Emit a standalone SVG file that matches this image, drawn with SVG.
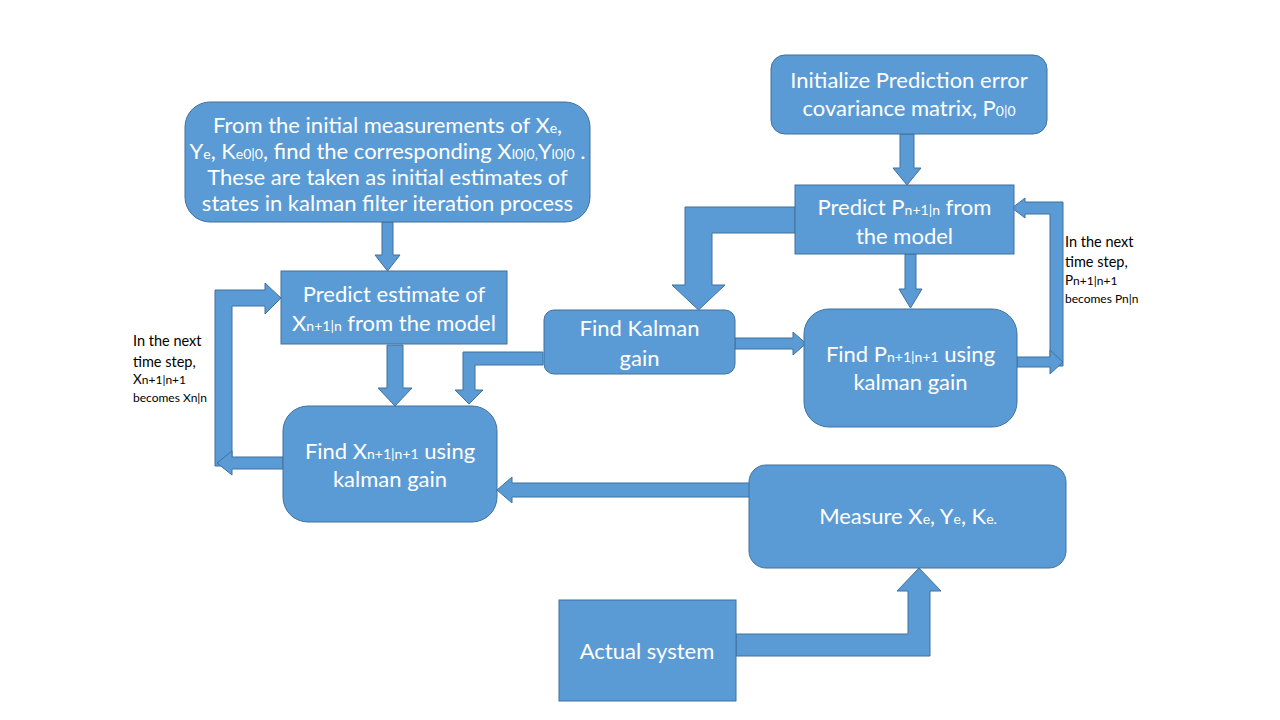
<svg xmlns="http://www.w3.org/2000/svg" width="1280" height="720" viewBox="0 0 1280 720">
<style>
.box{fill:#5B9BD5;stroke:#41719C;stroke-width:1}
.arr{fill:#5B9BD5;stroke:#41719C;stroke-width:1;stroke-linejoin:miter}
.t{font-family:Lato,"Liberation Sans",sans-serif;font-size:22px;fill:#FFFFFF;text-anchor:middle}
.s{font-size:14px}
.lbl{font-family:Lato,"Liberation Sans",sans-serif;font-size:14.5px;fill:#000000}
.ls{font-size:12px}
</style>
<rect width="1280" height="720" fill="#FFFFFF"/>
<g id="connectors">
  <path class="arr" d="M382,222 L393,222 L393,255 L400,255 L387.5,271 L375,255 L382,255 Z"/>
  <path class="arr" d="M900,134 L914,134 L914,168 L921,168 L907,185 L893,168 L900,168 Z"/>
  <path class="arr" d="M905,254 L916,254 L916,289 L922,289 L910.5,308 L899,289 L905,289 Z"/>
  <path class="arr" d="M795,207 L685,207 L685,285 L672,285 L698.5,310 L725,285 L712,285 L712,233 L795,233 Z"/>
  <path class="arr" d="M735,338 L793,338 L793,332 L806,343.5 L793,355 L793,349 L735,349 Z"/>
  <path class="arr" d="M543,352 L463,352 L463,390 L455,390 L469,404 L483,390 L475,390 L475,365 L543,365 Z"/>
  <path class="arr" d="M387,345 L403,345 L403,388 L412,388 L395,406 L378,388 L387,388 Z"/>
  <path class="arr" d="M215,466 L215,290 L265,290 L265,283 L281,298 L265,314 L265,306 L232,306 L232,466 Z"/>
  <path class="arr" d="M283,457 L232,457 L232,451 L217,463 L232,475 L232,469 L283,469 Z"/>
  <path class="arr" d="M1063,366 L1063,202 L1025,202 L1025,198 L1012,208 L1025,218 L1025,214 L1050,214 L1050,366 Z"/>
  <path class="arr" d="M1017,357 L1050,357 L1050,350 L1063,362 L1050,374 L1050,367 L1017,367 Z"/>
  <path class="arr" d="M750,483 L512,483 L512,477 L497,490 L512,503 L512,497 L750,497 Z"/>
  <path class="arr" d="M736,634 L908,634 L908,591 L897,591 L919,568 L941,591 L930,591 L930,656 L736,656 Z"/>
</g>
<g id="node-initial-estimates">
  <rect class="box" x="185" y="102" width="405" height="120" rx="25" ry="25"/>
  <text class="t" x="387.5" y="133">From the initial measurements of X<tspan class="s">e</tspan>,</text>
  <text class="t" x="387.5" y="159">Y<tspan class="s">e</tspan>, K<tspan class="s">e0|0</tspan>, find the corresponding  X<tspan class="s">l0|0,</tspan>Y<tspan class="s">l0|0</tspan> .</text>
  <text class="t" x="387.5" y="185">These are taken as initial estimates of</text>
  <text class="t" x="387.5" y="211">states in kalman filter iteration process</text>
</g>
<g id="node-init-p">
  <rect class="box" x="771" y="55" width="276" height="79" rx="14" ry="14"/>
  <text class="t" x="909" y="88">Initialize Prediction error</text>
  <text class="t" x="909" y="116">covariance matrix, P<tspan class="s">0|0</tspan></text>
</g>
<g id="node-predict-p">
  <rect class="box" x="795" y="185" width="219" height="69"/>
  <text class="t" x="904.5" y="215">Predict P<tspan class="s">n+1|n</tspan> from</text>
  <text class="t" x="904.5" y="244">the model</text>
</g>
<g id="node-predict-x">
  <rect class="box" x="281" y="271" width="226" height="73"/>
  <text class="t" x="394" y="302">Predict estimate of</text>
  <text class="t" x="394" y="331">X<tspan class="s">n+1|n</tspan> from the model</text>
</g>
<g id="node-kalman-gain">
  <rect class="box" x="544" y="310" width="191" height="64" rx="10" ry="10"/>
  <text class="t" x="639.5" y="336">Find Kalman</text>
  <text class="t" x="639.5" y="366">gain</text>
</g>
<g id="node-find-p">
  <rect class="box" x="804" y="309" width="213" height="118" rx="25" ry="25"/>
  <text class="t" x="910.5" y="362">Find P<tspan class="s">n+1|n+1</tspan> using</text>
  <text class="t" x="910.5" y="390">kalman gain</text>
</g>
<g id="node-find-x">
  <rect class="box" x="283" y="406" width="214" height="116" rx="25" ry="25"/>
  <text class="t" x="390" y="459">Find X<tspan class="s">n+1|n+1</tspan> using</text>
  <text class="t" x="390" y="487">kalman gain</text>
</g>
<g id="node-measure">
  <rect class="box" x="749" y="465" width="317" height="103" rx="17" ry="17"/>
  <text class="t" x="908" y="524">Measure X<tspan class="s">e</tspan>, Y<tspan class="s">e</tspan>, K<tspan class="s">e.</tspan></text>
</g>
<g id="node-actual-system">
  <rect class="box" x="559" y="600" width="177" height="101"/>
  <text class="t" x="647" y="659">Actual system</text>
</g>
<g id="label-left">
  <text class="lbl" x="133" y="346">In the next</text>
  <text class="lbl" x="133" y="367">time step,</text>
  <text class="lbl" x="133" y="384" style="font-size:13.5px">X<tspan class="ls">n+1|n+1</tspan></text>
  <text class="lbl ls" x="133" y="402">becomes X<tspan>n|n</tspan></text>
</g>
<g id="label-right">
  <text class="lbl" x="1065" y="247">In the next</text>
  <text class="lbl" x="1065" y="267">time step,</text>
  <text class="lbl" x="1065" y="285" style="font-size:13.5px">P<tspan class="ls">n+1|n+1</tspan></text>
  <text class="lbl ls" x="1065" y="303">becomes P<tspan>n|n</tspan></text>
</g>
</svg>
